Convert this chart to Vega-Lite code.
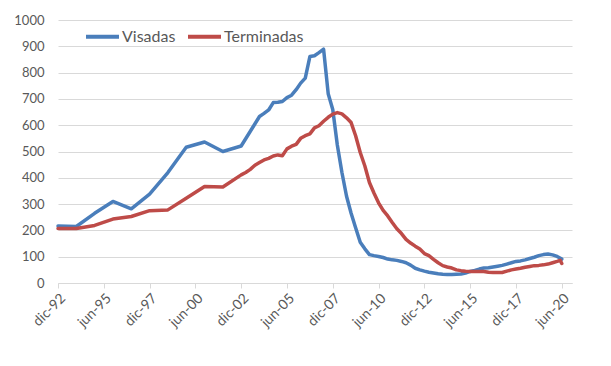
{
  "$schema": "https://vega.github.io/schema/vega-lite/v6.json",
  "autosize": "none",
  "width": 514,
  "height": 263,
  "padding": {"left": 58, "top": 20, "right": 39, "bottom": 83},
  "background": "white",
  "config": {"view": {"stroke": null}, "font": "Lato"},
  "data": {"values": [
    {"fecha":"1992-12-01","serie":"Visadas","valor":217},{"fecha":"1993-12-01","serie":"Visadas","valor":215},{"fecha":"1994-12-01","serie":"Visadas","valor":265},{"fecha":"1995-12-01","serie":"Visadas","valor":310},{"fecha":"1996-12-01","serie":"Visadas","valor":282},{"fecha":"1997-12-01","serie":"Visadas","valor":338},{"fecha":"1998-12-01","serie":"Visadas","valor":420},{"fecha":"1999-12-01","serie":"Visadas","valor":516},{"fecha":"2000-12-01","serie":"Visadas","valor":536},{"fecha":"2001-12-01","serie":"Visadas","valor":500},{"fecha":"2002-12-01","serie":"Visadas","valor":521},{"fecha":"2003-12-01","serie":"Visadas","valor":633},{"fecha":"2004-03-01","serie":"Visadas","valor":645},{"fecha":"2004-06-01","serie":"Visadas","valor":658},{"fecha":"2004-09-01","serie":"Visadas","valor":686},{"fecha":"2004-12-01","serie":"Visadas","valor":687},{"fecha":"2005-03-01","serie":"Visadas","valor":690},{"fecha":"2005-06-01","serie":"Visadas","valor":705},{"fecha":"2005-09-01","serie":"Visadas","valor":714},{"fecha":"2005-12-01","serie":"Visadas","valor":735},{"fecha":"2006-03-01","serie":"Visadas","valor":760},{"fecha":"2006-06-01","serie":"Visadas","valor":779},{"fecha":"2006-09-01","serie":"Visadas","valor":861},{"fecha":"2006-12-01","serie":"Visadas","valor":864},{"fecha":"2007-03-01","serie":"Visadas","valor":876},{"fecha":"2007-06-01","serie":"Visadas","valor":889},{"fecha":"2007-09-01","serie":"Visadas","valor":720},{"fecha":"2007-12-01","serie":"Visadas","valor":660},{"fecha":"2008-03-01","serie":"Visadas","valor":525},{"fecha":"2008-06-01","serie":"Visadas","valor":420},{"fecha":"2008-09-01","serie":"Visadas","valor":330},{"fecha":"2008-12-01","serie":"Visadas","valor":265},{"fecha":"2009-03-01","serie":"Visadas","valor":210},{"fecha":"2009-06-01","serie":"Visadas","valor":155},{"fecha":"2009-09-01","serie":"Visadas","valor":130},{"fecha":"2009-12-01","serie":"Visadas","valor":108},{"fecha":"2010-03-01","serie":"Visadas","valor":104},{"fecha":"2010-06-01","serie":"Visadas","valor":101},{"fecha":"2010-09-01","serie":"Visadas","valor":97},{"fecha":"2010-12-01","serie":"Visadas","valor":91},{"fecha":"2011-03-01","serie":"Visadas","valor":88},{"fecha":"2011-06-01","serie":"Visadas","valor":86},{"fecha":"2011-09-01","serie":"Visadas","valor":82},{"fecha":"2011-12-01","serie":"Visadas","valor":77},{"fecha":"2012-03-01","serie":"Visadas","valor":68},{"fecha":"2012-06-01","serie":"Visadas","valor":56},{"fecha":"2012-09-01","serie":"Visadas","valor":50},{"fecha":"2012-12-01","serie":"Visadas","valor":45},{"fecha":"2013-03-01","serie":"Visadas","valor":41},{"fecha":"2013-06-01","serie":"Visadas","valor":38},{"fecha":"2013-09-01","serie":"Visadas","valor":35},{"fecha":"2013-12-01","serie":"Visadas","valor":33},{"fecha":"2014-03-01","serie":"Visadas","valor":32},{"fecha":"2014-06-01","serie":"Visadas","valor":32},{"fecha":"2014-09-01","serie":"Visadas","valor":33},{"fecha":"2014-12-01","serie":"Visadas","valor":34},{"fecha":"2015-03-01","serie":"Visadas","valor":38},{"fecha":"2015-06-01","serie":"Visadas","valor":44},{"fecha":"2015-09-01","serie":"Visadas","valor":48},{"fecha":"2015-12-01","serie":"Visadas","valor":53},{"fecha":"2016-03-01","serie":"Visadas","valor":57},{"fecha":"2016-06-01","serie":"Visadas","valor":58},{"fecha":"2016-09-01","serie":"Visadas","valor":61},{"fecha":"2016-12-01","serie":"Visadas","valor":64},{"fecha":"2017-03-01","serie":"Visadas","valor":67},{"fecha":"2017-06-01","serie":"Visadas","valor":72},{"fecha":"2017-09-01","serie":"Visadas","valor":77},{"fecha":"2017-12-01","serie":"Visadas","valor":82},{"fecha":"2018-03-01","serie":"Visadas","valor":84},{"fecha":"2018-06-01","serie":"Visadas","valor":88},{"fecha":"2018-09-01","serie":"Visadas","valor":93},{"fecha":"2018-12-01","serie":"Visadas","valor":98},{"fecha":"2019-03-01","serie":"Visadas","valor":104},{"fecha":"2019-06-01","serie":"Visadas","valor":108},{"fecha":"2019-09-01","serie":"Visadas","valor":110},{"fecha":"2019-12-01","serie":"Visadas","valor":107},{"fecha":"2020-03-01","serie":"Visadas","valor":101},{"fecha":"2020-06-01","serie":"Visadas","valor":91},
    {"fecha":"1992-12-01","serie":"Terminadas","valor":207},{"fecha":"1993-12-01","serie":"Terminadas","valor":207},{"fecha":"1994-12-01","serie":"Terminadas","valor":219},{"fecha":"1995-12-01","serie":"Terminadas","valor":243},{"fecha":"1996-12-01","serie":"Terminadas","valor":253},{"fecha":"1997-12-01","serie":"Terminadas","valor":275},{"fecha":"1998-12-01","serie":"Terminadas","valor":278},{"fecha":"1999-12-01","serie":"Terminadas","valor":322},{"fecha":"2000-12-01","serie":"Terminadas","valor":367},{"fecha":"2001-12-01","serie":"Terminadas","valor":365},{"fecha":"2002-12-01","serie":"Terminadas","valor":411},{"fecha":"2003-03-01","serie":"Terminadas","valor":420},{"fecha":"2003-06-01","serie":"Terminadas","valor":432},{"fecha":"2003-09-01","serie":"Terminadas","valor":448},{"fecha":"2003-12-01","serie":"Terminadas","valor":458},{"fecha":"2004-03-01","serie":"Terminadas","valor":468},{"fecha":"2004-06-01","serie":"Terminadas","valor":474},{"fecha":"2004-09-01","serie":"Terminadas","valor":483},{"fecha":"2004-12-01","serie":"Terminadas","valor":487},{"fecha":"2005-03-01","serie":"Terminadas","valor":484},{"fecha":"2005-06-01","serie":"Terminadas","valor":510},{"fecha":"2005-09-01","serie":"Terminadas","valor":520},{"fecha":"2005-12-01","serie":"Terminadas","valor":527},{"fecha":"2006-03-01","serie":"Terminadas","valor":550},{"fecha":"2006-06-01","serie":"Terminadas","valor":560},{"fecha":"2006-09-01","serie":"Terminadas","valor":567},{"fecha":"2006-12-01","serie":"Terminadas","valor":590},{"fecha":"2007-03-01","serie":"Terminadas","valor":598},{"fecha":"2007-06-01","serie":"Terminadas","valor":615},{"fecha":"2007-09-01","serie":"Terminadas","valor":630},{"fecha":"2007-12-01","serie":"Terminadas","valor":642},{"fecha":"2008-03-01","serie":"Terminadas","valor":648},{"fecha":"2008-06-01","serie":"Terminadas","valor":643},{"fecha":"2008-09-01","serie":"Terminadas","valor":628},{"fecha":"2008-12-01","serie":"Terminadas","valor":610},{"fecha":"2009-03-01","serie":"Terminadas","valor":560},{"fecha":"2009-06-01","serie":"Terminadas","valor":496},{"fecha":"2009-09-01","serie":"Terminadas","valor":445},{"fecha":"2009-12-01","serie":"Terminadas","valor":382},{"fecha":"2010-03-01","serie":"Terminadas","valor":342},{"fecha":"2010-06-01","serie":"Terminadas","valor":305},{"fecha":"2010-09-01","serie":"Terminadas","valor":276},{"fecha":"2010-12-01","serie":"Terminadas","valor":255},{"fecha":"2011-03-01","serie":"Terminadas","valor":230},{"fecha":"2011-06-01","serie":"Terminadas","valor":206},{"fecha":"2011-09-01","serie":"Terminadas","valor":188},{"fecha":"2011-12-01","serie":"Terminadas","valor":166},{"fecha":"2012-03-01","serie":"Terminadas","valor":152},{"fecha":"2012-06-01","serie":"Terminadas","valor":140},{"fecha":"2012-09-01","serie":"Terminadas","valor":129},{"fecha":"2012-12-01","serie":"Terminadas","valor":112},{"fecha":"2013-03-01","serie":"Terminadas","valor":104},{"fecha":"2013-06-01","serie":"Terminadas","valor":90},{"fecha":"2013-09-01","serie":"Terminadas","valor":77},{"fecha":"2013-12-01","serie":"Terminadas","valor":66},{"fecha":"2014-03-01","serie":"Terminadas","valor":61},{"fecha":"2014-06-01","serie":"Terminadas","valor":57},{"fecha":"2014-09-01","serie":"Terminadas","valor":50},{"fecha":"2014-12-01","serie":"Terminadas","valor":47},{"fecha":"2015-03-01","serie":"Terminadas","valor":45},{"fecha":"2015-06-01","serie":"Terminadas","valor":44},{"fecha":"2015-09-01","serie":"Terminadas","valor":44},{"fecha":"2015-12-01","serie":"Terminadas","valor":44},{"fecha":"2016-03-01","serie":"Terminadas","valor":44},{"fecha":"2016-06-01","serie":"Terminadas","valor":41},{"fecha":"2016-09-01","serie":"Terminadas","valor":40},{"fecha":"2016-12-01","serie":"Terminadas","valor":40},{"fecha":"2017-03-01","serie":"Terminadas","valor":40},{"fecha":"2017-06-01","serie":"Terminadas","valor":45},{"fecha":"2017-09-01","serie":"Terminadas","valor":50},{"fecha":"2017-12-01","serie":"Terminadas","valor":53},{"fecha":"2018-03-01","serie":"Terminadas","valor":56},{"fecha":"2018-06-01","serie":"Terminadas","valor":60},{"fecha":"2018-09-01","serie":"Terminadas","valor":63},{"fecha":"2018-12-01","serie":"Terminadas","valor":66},{"fecha":"2019-03-01","serie":"Terminadas","valor":67},{"fecha":"2019-06-01","serie":"Terminadas","valor":69},{"fecha":"2019-09-01","serie":"Terminadas","valor":72},{"fecha":"2019-12-01","serie":"Terminadas","valor":77},{"fecha":"2020-03-01","serie":"Terminadas","valor":82},{"fecha":"2020-05-01","serie":"Terminadas","valor":86},{"fecha":"2020-06-01","serie":"Terminadas","valor":74}
  ]},
  "mark": {"type": "line", "strokeWidth": 3.5, "strokeCap": "round", "strokeJoin": "round"},
  "encoding": {
    "x": {
      "field": "fecha", "type": "temporal",
      "scale": {"type": "utc", "domain": [{"year": 1992, "month": 12, "date": 1, "utc": true}, {"year": 2020, "month": 12, "date": 22, "utc": true}], "nice": false},
      "axis": {
        "title": null, "grid": false,
        "values": [
          {"year": 1992, "month": 12, "date": 1, "utc": true},
          {"year": 1995, "month": 6, "date": 1, "utc": true},
          {"year": 1997, "month": 12, "date": 1, "utc": true},
          {"year": 2000, "month": 6, "date": 1, "utc": true},
          {"year": 2002, "month": 12, "date": 1, "utc": true},
          {"year": 2005, "month": 6, "date": 1, "utc": true},
          {"year": 2007, "month": 12, "date": 1, "utc": true},
          {"year": 2010, "month": 6, "date": 1, "utc": true},
          {"year": 2012, "month": 12, "date": 1, "utc": true},
          {"year": 2015, "month": 6, "date": 1, "utc": true},
          {"year": 2017, "month": 12, "date": 1, "utc": true},
          {"year": 2020, "month": 6, "date": 1, "utc": true}
        ],
        "labelExpr": "(utcmonth(datum.value) == 11 ? 'dic' : 'jun') + '-' + utcFormat(datum.value, '%y')",
        "labelAngle": -45, "labelFontSize": 14, "labelColor": "#595959",
        "labelOverlap": false, "labelBound": false, "labelFlush": false,
        "domainColor": "#d9d9d9", "tickColor": "#d9d9d9", "tickSize": 5, "labelPadding": 3
      }
    },
    "y": {
      "field": "valor", "type": "quantitative",
      "scale": {"domain": [0, 1000], "nice": false},
      "axis": {
        "title": null, "values": [0,100,200,300,400,500,600,700,800,900,1000], "format": "d",
        "domain": false, "ticks": false, "gridColor": "#d9d9d9", "gridWidth": 1,
        "labelFontSize": 13, "labelColor": "#595959", "labelPadding": 14
      }
    },
    "color": {
      "field": "serie", "type": "nominal",
      "scale": {"domain": ["Visadas", "Terminadas"], "range": ["#4a7ebb", "#be4b48"]},
      "legend": {
        "title": null, "orient": "none", "direction": "horizontal",
        "legendX": 26, "legendY": -2,
        "symbolType": "stroke", "symbolStrokeWidth": 4, "symbolSize": 1089,
        "labelFontSize": 16, "labelColor": "#595959", "labelOffset": 1, "columnPadding": 4
      }
    }
  }
}
